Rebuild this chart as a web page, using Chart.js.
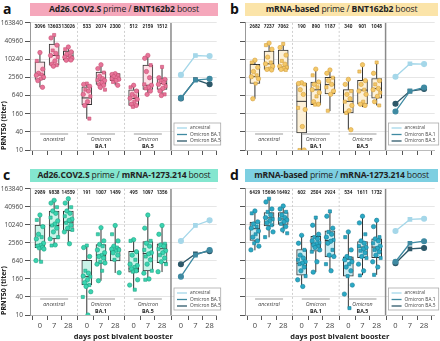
<!DOCTYPE html>
<html>
<head>
<meta charset="utf-8">
<script src="https://cdn.jsdelivr.net/npm/chart.js@4.4.1/dist/chart.umd.min.js"></script>
<style>
  body { margin: 0; background: #fff; font-family: "Open Sans", sans-serif; }
  #fig { position: relative; width: 440px; height: 341px; overflow: hidden; }
  .tag { position: absolute; font-weight: bold; font-size: 14px; color: #111; line-height: 14px; }
  .ban { position: absolute; height: 13px; line-height: 13px; text-align: center; font-size: 8.6px; letter-spacing: -0.15px; color: #222; white-space: nowrap; }
  canvas { position: absolute; }
</style>
</head>
<body>
<div id="fig">
  <div class="tag" style="left:3px;top:2px">a</div>
  <div class="ban" style="left:30px;top:3px;width:188px;background:#f5a7bb"><b>Ad26.COV2.S</b> prime / <b>BNT162b2</b> boost</div>
  <div class="tag" style="left:230px;top:2px">b</div>
  <div class="ban" style="left:245px;top:3px;width:193px;background:#fbe4a9"><b>mRNA-based</b> prime / <b>BNT162b2</b> boost</div>
  <div class="tag" style="left:3px;top:168px">c</div>
  <div class="ban" style="left:30px;top:169px;width:188px;background:#84e6cf"><b>Ad26.COV2.S</b> prime / <b>mRNA-1273.214</b> boost</div>
  <div class="tag" style="left:230px;top:168px">d</div>
  <div class="ban" style="left:245px;top:169px;width:193px;background:#7dcfe1"><b>mRNA-based</b> prime / <b>mRNA-1273.214</b> boost</div>

  <canvas id="cA" width="222" height="148" style="left:0;top:17px"></canvas>
  <canvas id="cB" width="218" height="148" style="left:222px;top:17px"></canvas>
  <canvas id="cC" width="222" height="158" style="left:0;top:183px"></canvas>
  <canvas id="cD" width="218" height="158" style="left:222px;top:183px"></canvas>
</div>
<script>
// shared axes
const dayLabels = ['0', '7', '28'];
const variants = ['ancestral', 'Omicron BA.1', 'Omicron BA.5'];
const tickVals = [10, 40, 160, 640, 2560, 10240, 40960, 163840];

// panel a: Ad26.COV2.S prime / BNT162b2 boost
// numbers printed above each box (ancestral d0,7,28 | BA.1 | BA.5)
const aGmt = [3096, 13603, 13026, 533, 2074, 2300, 512, 2159, 1512];
// [whisker low, q1, median, q3, whisker high]
const aBox = [
  [1200, 2200, 3100, 8400, 17500], [6000, 6500, 13600, 32800, 65600], [9500, 9600, 13000, 19200, 26300],
  [108, 320, 533, 1250, 1600], [1000, 1500, 2074, 3800, 6800], [1400, 2000, 2300, 3400, 3500],
  [270, 300, 512, 990, 1400], [660, 1020, 1400, 6600, 13700], [640, 1030, 1600, 2350, 5800]
];
const aPts = [
  [17000, 9000, 4800, 3500, 3200, 3000, 2600, 2300, 2000, 1200],
  [65000, 52000, 30000, 20000, 16000, 13600, 12000, 9000, 7000, 6500, 6000],
  [26000, 22000, 18000, 15000, 13000, 12000, 11000, 10000, 9500, 9600],
  [1600, 1500, 1300, 1000, 900, 700, 600, 400, 300, 110],
  [6700, 5000, 3700, 2800, 2300, 2100, 2000, 1700, 1500, 1400, 1200, 1000],
  [3400, 3200, 3000, 2700, 2400, 2300, 2200, 2000, 1800, 1400],
  [1400, 1200, 900, 700, 600, 520, 480, 400, 330, 300, 270],
  [13700, 11000, 6500, 4000, 2500, 1500, 1400, 1200, 1100, 900, 700],
  [5700, 2500, 2200, 2000, 1700, 1500, 1300, 1100, 900, 700, 640]
];

// panel b: mRNA-based prime / BNT162b2 boost
const bGmt = [2682, 7237, 7062, 190, 890, 1187, 340, 901, 1048];
const bBox = [
  [500, 1600, 2700, 6900, 9500], [4500, 4700, 7200, 19200, 35000], [4500, 4700, 5600, 20500, 33000],
  [10, 37, 410, 1650, 1700], [320, 320, 990, 1800, 4800], [195, 720, 1470, 2560, 4600],
  [47, 170, 410, 1000, 2200], [265, 330, 970, 2050, 6700], [300, 525, 1100, 2350, 8000]
];
const bPts = [
  [9500, 8000, 5500, 4000, 3000, 2700, 2300, 1600, 500],
  [35000, 30000, 22000, 12000, 8000, 7200, 6000, 5000, 4700, 4500],
  [33000, 25000, 14000, 9000, 7000, 6000, 5500, 5000, 4700, 4500],
  [1700, 1600, 1500, 1000, 700, 250, 220, 60, 10, 10],
  [4800, 3000, 1800, 1500, 1200, 1000, 800, 600, 400, 330, 320],
  [4500, 3500, 2500, 2000, 1500, 1200, 900, 700, 200],
  [2200, 1500, 900, 700, 500, 400, 300, 200, 170, 47],
  [6700, 4000, 2000, 1500, 1000, 900, 700, 400, 330, 300],
  [8000, 3500, 2000, 1500, 1100, 1000, 800, 600, 400, 300]
];

// panel c: Ad26.COV2.S prime / mRNA-1273.214 boost
const cGmt = [2989, 9838, 14559, 191, 1007, 1489, 495, 1097, 1356];
const cBox = [
  [640, 1790, 2200, 10100, 22500], [2130, 3480, 9830, 29700, 68400], [2390, 6480, 12700, 29700, 77500],
  [10, 101, 191, 670, 2130], [140, 534, 1000, 2260, 8320], [255, 640, 1450, 1790, 9830],
  [67, 272, 350, 1350, 3280], [154, 300, 1130, 2860, 22500], [272, 565, 1640, 2390, 9830]
];
const cPts = [
  [22000, 15000, 9000, 5000, 4000, 3500, 2500, 2200, 2000, 1800, 1700, 1600, 660, 600],
  [68000, 55000, 40000, 30000, 25000, 18000, 14000, 11000, 9800, 8000, 6000, 4000, 3500, 2200, 2100],
  [77000, 55000, 40000, 30000, 25000, 20000, 16000, 14500, 12000, 10000, 8000, 7000, 6000, 2400],
  [2100, 1800, 900, 300, 250, 200, 190, 150, 120, 100, 90, 60, 40, 10],
  [8300, 5000, 3000, 2300, 2000, 1500, 1200, 1000, 900, 800, 600, 550, 500, 300, 140],
  [9800, 5000, 3000, 2000, 1800, 1600, 1500, 1400, 1200, 1000, 700, 260],
  [3300, 3000, 1300, 1000, 700, 500, 450, 400, 350, 300, 280, 150, 100, 70],
  [22000, 8000, 3000, 2500, 2000, 1500, 1200, 1100, 900, 700, 500, 300, 250, 160, 150],
  [9800, 5000, 2400, 2200, 2000, 1600, 1400, 1200, 1000, 800, 600, 500, 280]
];

// panel d: mRNA-based prime / mRNA-1273.214 boost
const dGmt = [6429, 15696, 16492, 602, 2504, 2924, 534, 1611, 1732];
const dBox = [
  [1450, 3100, 7660, 12700, 29700], [3940, 9420, 17600, 26650, 77500], [5400, 10650, 16200, 26650, 43800],
  [87, 214, 534, 1550, 4640], [272, 1350, 2390, 4230, 18300], [300, 880, 3100, 6480, 29700],
  [16.5, 197, 735, 880, 5970], [214, 820, 1860, 2860, 20000], [220, 820, 1860, 3480, 14600]
];
const dPts = [
  [30000, 25000, 13000, 11000, 9000, 8000, 6400, 5000, 4000, 3000, 2500, 2000, 1500],
  [77000, 60000, 35000, 28000, 22000, 18000, 16000, 14000, 12000, 10000, 8000, 6000, 4000],
  [44000, 35000, 28000, 22000, 18000, 16000, 15000, 13000, 11000, 9000, 7000, 5400],
  [4600, 2500, 1500, 1000, 800, 700, 600, 550, 500, 400, 300, 200, 150, 90],
  [18000, 10000, 5000, 4000, 3500, 3000, 2600, 2400, 2200, 2000, 1800, 1500, 1300, 600, 270],
  [29000, 20000, 8000, 6000, 5000, 4000, 3200, 2900, 2500, 1500, 1000, 900, 500, 300],
  [6000, 4000, 1500, 900, 800, 700, 600, 500, 400, 300, 200, 100, 50, 17],
  [20000, 12000, 5000, 3000, 2500, 2000, 1800, 1600, 1400, 1200, 900, 800, 500, 300, 210],
  [14600, 9000, 4000, 3500, 3000, 2500, 2000, 1700, 1500, 1300, 1000, 800, 600, 400, 220]
];

// layout on the linear x axis (not data)
const boxPos = [1, 2, 3, 4.3, 5.3, 6.3, 7.6, 8.6, 9.6];
const groupSeps = [3.65, 6.95];
const panelSep = 10.23;
const linePos = [10.93, 11.95, 12.95];
const jitter = [0, -0.22, 0.2, -0.1, 0.12, -0.25, 0.25, 0.05, -0.15, 0.18, -0.05, 0.28, -0.28, 0.08, -0.18];
const varColors = ['#a5d7e9', '#3f8aa2', '#2d5869'];

function makePanel(id, o) {
  const boxData = o.box.map((b, i) => ({ x: boxPos[i], y: [b[1], b[3]] }));
  const ptData = [];
  o.pts.forEach((arr, i) => arr.forEach((v, k) => ptData.push({ x: boxPos[i] + jitter[k % jitter.length], y: v })));
  const ptStyles = ptData.map((p, k) => (k % 3 === 1 ? 'rect' : 'circle'));

  const lineSets = variants.map((name, g) => ({
    type: 'line',
    label: name,
    data: linePos.map((p, d) => ({ x: p, y: o.gmt[g * 3 + d] })),
    borderColor: varColors[g],
    backgroundColor: varColors[g],
    borderWidth: 1.3,
    pointStyle: ['circle', 'rect', 'circle'],
    pointRadius: 2.4,
    order: 1
  }));

  const extras = {
    id: 'extras' + id,
    beforeDatasetsDraw(chart) {
      const { ctx, chartArea: ca, scales: { x, y } } = chart;
      ctx.save();
      ctx.strokeStyle = '#c4c4c4';
      ctx.lineWidth = 0.8;
      ctx.setLineDash([2, 2]);
      groupSeps.forEach(s => {
        const px = x.getPixelForValue(s);
        ctx.beginPath(); ctx.moveTo(px, ca.top); ctx.lineTo(px, ca.bottom); ctx.stroke();
      });
      ctx.setLineDash([]);
      ctx.strokeStyle = '#8a8a8a';
      ctx.lineWidth = 1.5;
      const sp = x.getPixelForValue(panelSep);
      ctx.beginPath(); ctx.moveTo(sp, ca.top); ctx.lineTo(sp, ca.bottom); ctx.stroke();

      // whiskers
      ctx.strokeStyle = '#333';
      ctx.lineWidth = 1;
      o.box.forEach((b, i) => {
        const px = x.getPixelForValue(boxPos[i]);
        ctx.beginPath();
        ctx.moveTo(px, y.getPixelForValue(b[4])); ctx.lineTo(px, y.getPixelForValue(b[3]));
        ctx.moveTo(px, y.getPixelForValue(b[1])); ctx.lineTo(px, y.getPixelForValue(b[0]));
        ctx.stroke();
      });
      ctx.restore();
    },
    afterDatasetDraw(chart, args) {
      if (args.index !== 0) return;
      const { ctx, scales: { x, y } } = chart;
      ctx.save();
      ctx.strokeStyle = '#333';
      ctx.lineWidth = 1;
      o.box.forEach((b, i) => {
        const px = x.getPixelForValue(boxPos[i]);
        const py = y.getPixelForValue(b[2]);
        ctx.beginPath(); ctx.moveTo(px - 5, py); ctx.lineTo(px + 5, py); ctx.stroke();
      });
      ctx.restore();
    },
    afterDatasetsDraw(chart) {
      const { ctx, chartArea: ca, scales: { x } } = chart;
      ctx.save();
      // numbers above boxes
      ctx.fillStyle = '#222';
      ctx.textAlign = 'center';
      ctx.textBaseline = 'middle';
      ctx.font = 'bold 4.7px Roboto, sans-serif';
      o.gmt.forEach((v, i) => ctx.fillText(String(v), x.getPixelForValue(boxPos[i]), ca.top + 4));

      // group labels
      variants.forEach((name, g) => {
        const cx = x.getPixelForValue(boxPos[g * 3 + 1]);
        const parts = name.split(' ');
        ctx.strokeStyle = '#aaa';
        ctx.lineWidth = 1.2;
        ctx.beginPath(); ctx.moveTo(cx - 14, ca.bottom - 16); ctx.lineTo(cx + 14, ca.bottom - 16); ctx.stroke();
        ctx.fillStyle = '#444';
        ctx.font = 'italic 5.3px "Open Sans", sans-serif';
        ctx.fillText(parts[0], cx, ca.bottom - 11);
        if (parts[1]) {
          ctx.fillStyle = '#222';
          ctx.font = 'bold 5.3px "Open Sans", sans-serif';
          ctx.fillText(parts[1], cx, ca.bottom - 4);
        }
      });

      // legend for the small line panel
      const lx = x.getPixelForValue(panelSep) + 3;
      const ly = ca.bottom - 27;
      ctx.fillStyle = '#fff';
      ctx.strokeStyle = '#aaa';
      ctx.lineWidth = 0.8;
      ctx.fillRect(lx, ly, ca.right + 4 - lx, 22);
      ctx.strokeRect(lx, ly, ca.right + 4 - lx, 22);
      ctx.textAlign = 'left';
      ctx.font = '4.8px "Open Sans", sans-serif';
      variants.forEach((name, g) => {
        const yy = ly + 5 + g * 6.5;
        ctx.strokeStyle = varColors[g];
        ctx.lineWidth = 1.3;
        ctx.beginPath(); ctx.moveTo(lx + 3, yy); ctx.lineTo(lx + 13, yy); ctx.stroke();
        ctx.fillStyle = '#444';
        ctx.fillText(name, lx + 16, yy);
      });
      ctx.restore();
    }
  };

  new Chart(document.getElementById(id), {
    type: 'bar',
    data: {
      datasets: [
        {
          type: 'bar', data: boxData, backgroundColor: o.fill, borderColor: '#333',
          borderWidth: 1, borderSkipped: false, barThickness: 10, order: 3
        },
        {
          type: 'scatter', data: ptData, backgroundColor: o.dot, borderColor: o.dotEdge,
          borderWidth: 0.6, pointRadius: 2.2, pointStyle: ptStyles, order: 2
        },
        ...lineSets
      ]
    },
    options: {
      responsive: false,
      animation: false,
      layout: { padding: { top: 2, right: o.padRight, left: 0, bottom: 0 } },
      plugins: { legend: { display: false }, tooltip: { enabled: false } },
      scales: {
        x: {
          type: 'linear', min: 0.3, max: o.xMax, offset: false,
          afterBuildTicks: s => { s.ticks = boxPos.concat(linePos).map(v => ({ value: v })); },
          afterFit: s => { s.height = o.xh; },
          ticks: {
            autoSkip: false, maxRotation: 0, padding: 1,
            color: '#444', font: { size: 7.5, family: '"Open Sans", sans-serif' },
            callback: (v, i) => (o.showX ? dayLabels[i % 3] : '')
          },
          grid: { drawOnChartArea: false, tickColor: '#555', tickLength: 5 },
          border: { display: true, color: '#bbb' },
          title: {
            display: o.showX, text: 'days post bivalent booster', padding: 0,
            color: '#222', font: { size: 7.5, weight: 'bold', family: '"Open Sans", sans-serif' }
          }
        },
        y: {
          type: 'logarithmic', min: 10, max: 163840,
          afterBuildTicks: s => { s.ticks = tickVals.map(v => ({ value: v })); },
          afterFit: s => { s.width = o.yw; },
          ticks: {
            padding: 2, color: '#444', font: { size: 6.5, family: '"Open Sans", sans-serif' },
            callback: v => (o.showY ? String(v) : '')
          },
          grid: { color: '#e6e6e6', tickColor: '#555', tickLength: 5 },
          border: { display: true, color: '#999' },
          title: {
            display: o.showY, text: 'PRNT50 (titer)', align: 'start', padding: 0,
            color: '#222', font: { size: 7, weight: 'bold', family: '"Open Sans", sans-serif' }
          }
        }
      }
    },
    plugins: [extras]
  });
}

makePanel('cA', { gmt: aGmt, box: aBox, pts: aPts, fill: '#fde2e8', dot: '#e7759a', dotEdge: '#c84f72',
  showX: false, showY: true, yw: 30, xh: 15, padRight: 4, xMax: 13.45 });
makePanel('cB', { gmt: bGmt, box: bBox, pts: bPts, fill: '#fdf1d8', dot: '#f4c96a', dotEdge: '#d5a140',
  showX: false, showY: false, yw: 23, xh: 15, padRight: 2, xMax: 13.7 });
makePanel('cC', { gmt: cGmt, box: cBox, pts: cPts, fill: '#c9f3e8', dot: '#3ad4b0', dotEdge: '#1fa585',
  showX: true, showY: true, yw: 30, xh: 26, padRight: 4, xMax: 13.45 });
makePanel('cD', { gmt: dGmt, box: dBox, pts: dPts, fill: '#c8ebf2', dot: '#2aa9c5', dotEdge: '#1a7d97',
  showX: true, showY: false, yw: 23, xh: 26, padRight: 2, xMax: 13.7 });
</script>
</body>
</html>
